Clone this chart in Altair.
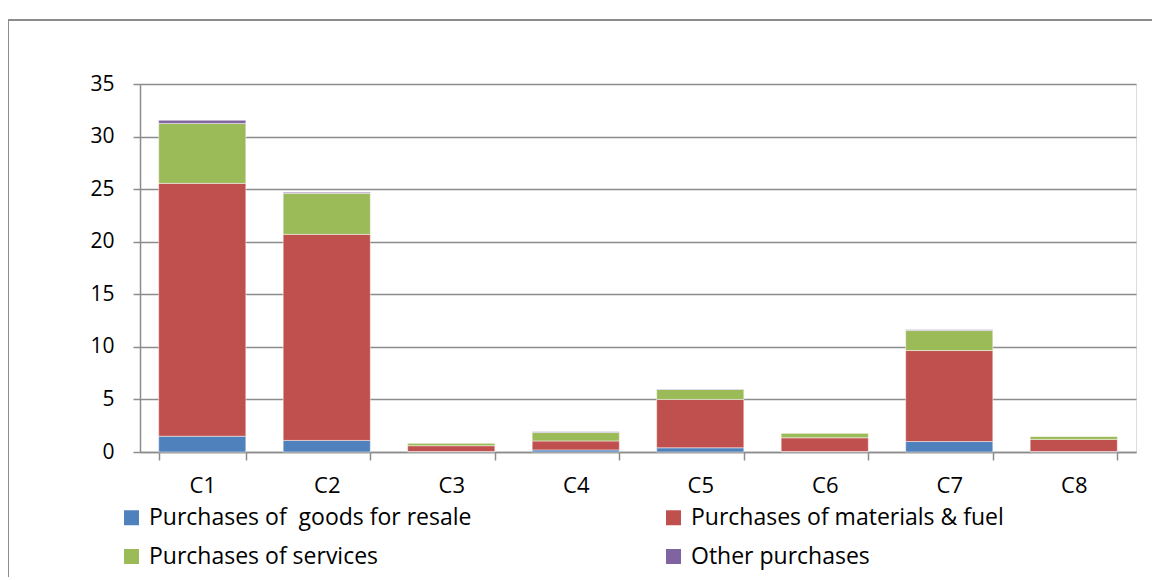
import altair as alt
import pandas as pd

categories = ["C1", "C2", "C3", "C4", "C5", "C6", "C7", "C8"]
series = ["Purchases of \u00a0goods for resale", "Purchases of materials & fuel",
          "Purchases of services", "Other purchases"]
goods = [1.5, 1.1, 0.05, 0.2, 0.4, 0.05, 1.0, 0.05]
materials = [24.05, 19.6, 0.55, 0.85, 4.6, 1.3, 8.65, 1.15]
services = [5.7, 3.9, 0.25, 0.8, 0.95, 0.45, 1.9, 0.3]
other = [0.3, 0.1, 0.0, 0.07, 0.03, 0.0, 0.07, 0.0]
colors = ["#4F81BD", "#C0504D", "#9BBB59", "#8064A2"]
y_ticks = [0, 5, 10, 15, 20, 25, 30, 35]

rows = []
for i, vals in enumerate([goods, materials, services, other]):
    for c, v in zip(categories, vals):
        rows.append({"cat": c, "series": series[i], "order": i, "value": v})
df = pd.DataFrame(rows)

FONT = "Open Sans"
W, H = 996, 368
GRAY = "#8C8C8C"

bars = alt.Chart(df).mark_bar(stroke="white", strokeWidth=0.8, strokeOpacity=0.6).encode(
    x=alt.X("cat:N", sort=categories, title=None,
            scale=alt.Scale(paddingInner=0.3, paddingOuter=0.15),
            axis=alt.Axis(labelAngle=0, labelFontSize=22, labelFont=FONT, labelColor="black",
                          domainColor=GRAY, domainWidth=1.5, tickBand="extent",
                          tickColor=GRAY, tickWidth=1.5, tickSize=8, labelPadding=15,
                          grid=False)),
    y=alt.Y("value:Q", stack="zero", title=None,
            scale=alt.Scale(domain=[0, 35], nice=False),
            axis=alt.Axis(values=y_ticks, labelFontSize=21, labelFont=FONT, labelColor="black",
                          domainColor=GRAY, domainWidth=1.5, tickColor=GRAY,
                          tickWidth=1.5, tickSize=7, labelPadding=19,
                          gridColor=GRAY, gridWidth=1.5)),
    color=alt.Color("series:N", sort=series,
                    scale=alt.Scale(domain=series, range=colors),
                    legend=alt.Legend(title=None, orient="none", legendX=-20, legendY=422,
                                      direction="horizontal", columns=2, columnPadding=190,
                                      rowPadding=15,
                                      symbolType="square", symbolSize=225, symbolStrokeWidth=0,
                                      labelFontSize=23, labelFont=FONT, labelColor="black",
                                      labelLimit=500, symbolOffset=0, labelOffset=6)),
    order=alt.Order("order:Q", sort="ascending"),
)

frame_v = alt.Chart(df).mark_rule(color=GRAY, strokeWidth=1.5, clip=False).encode(
    x=alt.value(-132), y=alt.value(-64), y2=alt.value(H + 200))
frame_h = alt.Chart(df).mark_rule(color=GRAY, strokeWidth=1.5, clip=False).encode(
    x=alt.value(-132), x2=alt.value(W + 100), y=alt.value(-64))

chart = alt.layer(frame_v, frame_h, bars).properties(
    width=W, height=H,
    autosize=alt.AutoSizeParams(type="none"),
    padding={"left": 132, "top": 76, "right": 16, "bottom": 125},
).configure_view(stroke=None).configure(font=FONT, background="white")

chart.save("out.html", embed_options={"renderer": "svg", "actions": False})
